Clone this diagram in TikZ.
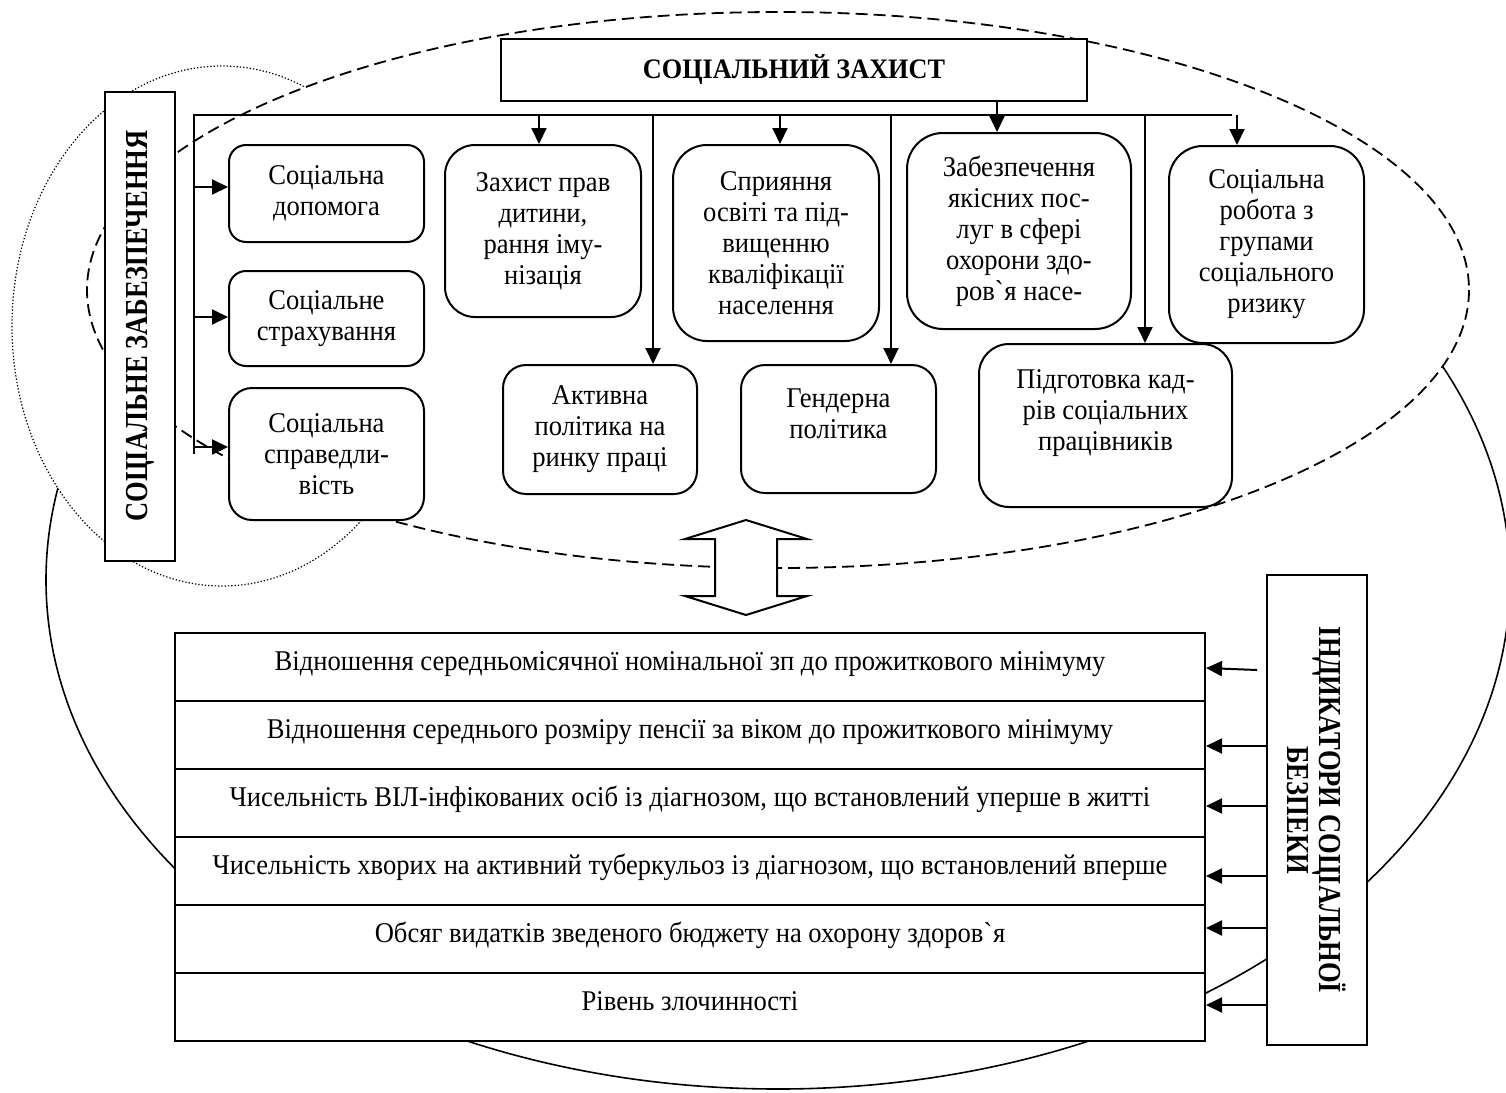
\documentclass[tikz,border=0pt]{standalone}
\usepackage{fontspec}
\setmainfont[FakeStretch=0.93]{Liberation Serif}
\newfontfamily\condfont[FakeStretch=0.83]{Liberation Serif}
\usetikzlibrary{arrows.meta}

\begin{document}
\begin{tikzpicture}[x=1pt, y=-1pt, >={Triangle[length=16pt,width=15pt]},
  every node/.style={font=\fontsize{28.6}{31}\selectfont},
  sbox/.style={draw, line width=2pt, fill=white, rounded corners=#1, align=center, inner sep=2pt},
  sbox/.default=20pt,
  row/.style={draw, line width=2pt, fill=white, minimum width=1030pt, minimum height=68pt,
    text height=12pt, text depth=6pt},
  vbox/.style={draw, line width=2pt, fill=white, align=center,
    font=\condfont\bfseries\fontsize{32}{32}\selectfont},
  link/.style={->, line width=2pt}]

\useasboundingbox (0,0) rectangle (1506,1092);

% the three fields
\draw [line width=1.6pt, fill=white] (778,580) ellipse [x radius=732, y radius=509];
\draw [line width=1.2pt, dash pattern=on 1.3pt off 2pt, fill=white] (222,326) ellipse [x radius=210, y radius=260];
\draw [line width=1.8pt, dash pattern=on 12pt off 6pt, fill=white] (778,290) ellipse [x radius=691, y radius=278];

\node [draw, line width=2pt, fill=white, minimum width=586pt, minimum height=62pt,
  font=\bfseries\fontsize{28.2}{31}\selectfont] (zahyst) at (794,70) {СОЦІАЛЬНИЙ ЗАХИСТ};

\node [vbox, rotate=90, minimum width=469pt, minimum height=70pt] (zabez) at (140,326) {СОЦІАЛЬНЕ ЗАБЕЗПЕЧЕННЯ};
\node [vbox, rotate=-90, minimum width=470pt, minimum height=100pt] (indyk) at (1317,810) {ІНДИКАТОРИ СОЦІАЛЬНОЇ\\БЕЗПЕКИ};

\node [sbox=17pt, minimum width=195pt, minimum height=97pt] (sd1) at (326.5,193.5) {Соціальна\\допомога};
\node [sbox=17pt, minimum width=195pt, minimum height=95pt] (sd2) at (326.5,318.5) {Соціальне\\страхування};
\node [sbox=23pt, minimum width=195pt, minimum height=132pt] (sd3) at (326.5,454) {Соціальна\\справедли-\\вість};

\node [sbox=30pt, minimum width=196pt, minimum height=172pt] (z1) at (543,231) {Захист прав\\дитини,\\рання іму-\\нізація};
\node [sbox=34pt, minimum width=206pt, minimum height=196pt] (z2) at (776,243) {Сприяння\\освіті та під-\\вищенню\\кваліфікації\\населення};
\node [sbox=36pt, minimum width=224pt, minimum height=196pt] (z3) at (1019,231) {Забезпечення\\якісних пос-\\луг в сфері\\охорони здо-\\ров\textasciigrave я насе-};
\node [sbox=34pt, minimum width=195pt, minimum height=197pt] (z4) at (1266.5,244.5) {Соціальна\\робота з\\групами\\соціального\\ризику};

\node [sbox=23pt, minimum width=194pt, minimum height=129pt] (a1) at (600,429.5) {Активна\\політика на\\ринку праці};
\node [sbox=24pt, minimum width=195pt, minimum height=128pt] (a2) at (838.5,429) {Гендерна\\політика\\\mbox{}};
\node [sbox=30pt, minimum width=253pt, minimum height=163pt] (a3) at (1105.5,425.5) {Підготовка кад-\\рів соціальних\\працівників\\\mbox{}};

% up-down arrow
\draw [line width=2pt, fill=white] (746,520) -- (807,539) -- (777,539) -- (777,596) -- (807,596)
  -- (746,615) -- (685,596) -- (715,596) -- (715,539) -- (685,539) -- cycle;

\foreach \t [count=\i] in {Відношення середньомісячної номінальної зп до прожиткового мінімуму,
    Відношення середнього розміру пенсії за віком до прожиткового мінімуму,
    {Чисельність ВІЛ-інфікованих осіб із діагнозом, що встановлений уперше в житті},
    {Чисельність хворих на активний туберкульоз із діагнозом, що встановлений вперше},
    Обсяг видатків зведеного бюджету на охорону здоров\textasciigrave я,
    Рівень злочинності}
  \node [row] (row\i) at (690,599+68*\i) {\t};

\coordinate (bus) at (194,115);
\coordinate (busend) at (1232,115);
\draw [line width=2pt] (bus |- 0,454) -- (bus) -- (busend);

\foreach \n/\y in {sd1/187, sd2/317, sd3/447}
  \draw [link] (bus |- 0,\y) -- (\n.west |- 0,\y);

\foreach \n/\x in {z1/539, z2/780, z4/1237, a1/653, a2/891, a3/1145}
  \draw [link] (bus -| \x,0) -- (\n.north -| \x,0);

\draw [link] (zahyst.south -| 997,0) -- (z3.north -| 997,0);

\draw [link] ([xshift=-9pt]indyk.south |- 0,670) -- (row1.east |- 0,668);
\foreach \i/\y in {2/746, 3/806, 4/876, 5/928, 6/1005}
  \draw [link] (indyk.south |- 0,\y) -- (row\i.east |- 0,\y);

\end{tikzpicture}
\end{document}
